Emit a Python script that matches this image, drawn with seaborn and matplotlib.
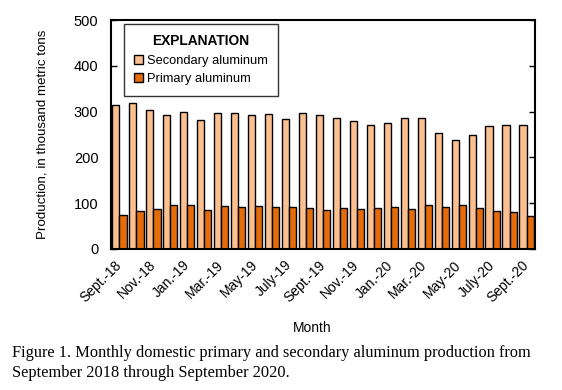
import matplotlib
matplotlib.use("Agg")
import matplotlib.pyplot as plt
import seaborn as sns
import pandas as pd
from matplotlib.patches import Patch

months = ["Sept.-18", "Oct.-18", "Nov.-18", "Dec.-18", "Jan.-19", "Feb.-19", "Mar.-19",
          "Apr.-19", "May-19", "June-19", "July-19", "Aug.-19", "Sept.-19", "Oct.-19",
          "Nov.-19", "Dec.-19", "Jan.-20", "Feb.-20", "Mar.-20", "Apr.-20", "May-20",
          "June-20", "July-20", "Aug.-20", "Sept.-20"]
secondary = [314, 319, 303, 292, 300, 281, 298, 297, 293, 295, 284, 297, 293,
             286, 279, 271, 276, 286, 286, 253, 239, 249, 268, 271, 271]
primary = [75, 84, 87, 95, 95, 86, 93, 92, 94, 91, 92, 89, 86,
           90, 88, 90, 92, 87, 95, 92, 96, 89, 82, 80, 71]
series_names = ["Secondary aluminum", "Primary aluminum"]
colors = ["#FAC090", "#E46C0A"]

df = pd.DataFrame({
    "Month": months * 2,
    "Series": [series_names[0]] * len(months) + [series_names[1]] * len(months),
    "Value": secondary + primary,
})

sns.set_style("white")
plt.rcParams["font.family"] = ["Liberation Sans", "DejaVu Sans"]
plt.rcParams["text.color"] = "black"
plt.rcParams["axes.labelcolor"] = "black"
plt.rcParams["xtick.color"] = "black"
plt.rcParams["ytick.color"] = "black"

fig = plt.figure(figsize=(5.62, 3.90), dpi=100)
ax = fig.add_axes([111 / 562, 1 - 249 / 390, (535 - 111) / 562, (249 - 20) / 390])

sns.barplot(data=df, x="Month", y="Value", hue="Series", order=months,
            hue_order=series_names, palette=colors, width=0.84, dodge=True,
            edgecolor="black", linewidth=1.0, saturation=1, ax=ax, legend=False)

ax.set_xlim(-0.5, len(months) - 0.5)
ax.set_ylim(0, 500)
ax.set_yticks([0, 100, 200, 300, 400, 500])
ax.tick_params(axis="y", direction="in", length=4, width=1, labelsize=10.5,
               right=True, left=True, pad=9)
ax.tick_params(axis="x", length=0, labelsize=10, pad=10)
ax.set_xticks(range(0, len(months), 2))
ax.set_xticklabels(months[::2], rotation=45, ha="right", va="center",
                   rotation_mode="anchor")
for s in ax.spines.values():
    s.set_visible(True)
    s.set_linewidth(1.5)
    s.set_color("black")

ax.set_ylabel("Production, in thousand metric tons", fontsize=9.6)
ax.yaxis.set_label_coords(-62 / 424, 0.5)
ax.set_xlabel("Month", fontsize=9.9, va="top")
ax.xaxis.set_label_coords((312 - 111) / 424, -(321 - 249) / 229)

handles = [Patch(facecolor=c, edgecolor="black", linewidth=1.0) for c in colors]
leg = ax.legend(handles, series_names, title="EXPLANATION", loc="upper left",
                bbox_to_anchor=(124 / 562, 1 - 24 / 390), bbox_transform=fig.transFigure,
                borderaxespad=0, fontsize=9.3, frameon=True,
                fancybox=False, edgecolor="black", handlelength=0.65, handleheight=0.65,
                handletextpad=0.3, borderpad=0.8, labelspacing=0.5)
leg.get_title().set_fontweight("bold")
leg.get_title().set_fontsize(9.9)
leg.get_frame().set_linewidth(1.0)

serif = ["Liberation Serif", "DejaVu Serif"]
fig.text(12 / 562, 1 - 357 / 390,
         "Figure 1. Monthly domestic primary and secondary aluminum production from",
         family=serif, fontsize=11.8, va="baseline", ha="left")
fig.text(12 / 562, 1 - 377 / 390,
         "September 2018 through September 2020.",
         family=serif, fontsize=11.8, va="baseline", ha="left")

fig.savefig("out.png", dpi=100)
